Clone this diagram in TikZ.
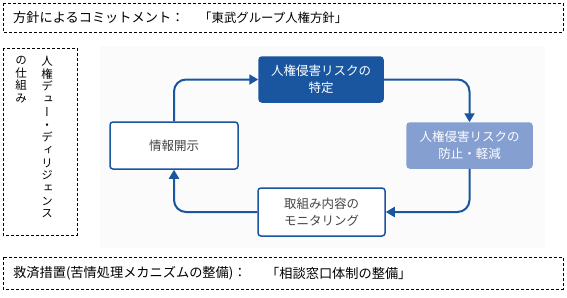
\documentclass[tikz,border=0pt]{standalone}
\usepackage{fontspec}
\newfontfamily\jp{Noto Sans CJK JP}
\newfontfamily\jpv[RawFeature=+vert]{Noto Sans CJK JP}
\usetikzlibrary{arrows.meta}
\definecolor{dkblue}{RGB}{26,85,160}
\definecolor{ltblue}{RGB}{132,159,208}
\definecolor{txtgray}{RGB}{68,68,68}
\definecolor{bgray}{RGB}{251,251,251}
\tikzset{
  dbox/.style={draw=black, line width=0.8pt, dash pattern=on 3pt off 2pt},
  dtext/.style={font=\jp\fontsize{13.2}{15}\selectfont, anchor=west, inner sep=0pt},
  dtextn/.style={dtext, font=\jp\fontsize{12.4}{15}\selectfont},
  vtext/.style={font=\jpv\fontsize{11.5}{12.7}\selectfont, anchor=north, inner sep=0pt, align=center},
  stepbox/.style={rounded corners=3pt, line width=1.5pt, align=center, inner sep=0pt,
    font=\jp\fontsize{12.5}{17}\selectfont},
  darkbox/.style={stepbox, fill=dkblue, draw=dkblue, text=white},
  lightbox/.style={stepbox, fill=ltblue, draw=ltblue, text=white},
  whitebox/.style={stepbox, fill=white, draw=dkblue, text=txtgray},
  arr/.style={draw=dkblue, line width=2pt, rounded corners=12pt, -{Triangle[length=9pt,width=10pt]}}
}
\begin{document}
\begin{tikzpicture}[x=1pt,y=-1pt]
\useasboundingbox (0,0) rectangle (567,297);
% top dashed box
\draw[dbox] (3,3) rectangle (563,32);
\node[dtext] (topa) at (13,17.5) {方針によるコミットメント：};
\node[dtextn] (topb) at (199,17.5) {「東武グループ人権方針」};
% left dashed box
\draw[dbox] (3,48) rectangle (77,235);
\node[vtext] (vcol1) at (47,56) {人\\権\\デ\\ュ\\ー\\・\\デ\\ィ\\リ\\ジ\\ェ\\ン\\ス};
\node[vtext] (vcol2) at (21,56) {の\\仕\\組\\み};
% bottom dashed box
\draw[dbox] (3,257) rectangle (563,289);
\node[dtext] (bota) at (13,273.5) {救済措置(苦情処理メカニズムの整備)：};
\node[dtext] (botb) at (266,273.5) {「相談窓口体制の整備」};
% faint background
\fill[bgray] (100,46) rectangle (545,248);
% cycle boxes
\node[darkbox, minimum width=124pt, minimum height=45pt] (T) at (321,79.5) {人権侵害リスクの\\特定};
\node[lightbox, minimum width=125pt, minimum height=45pt] (R) at (469.5,145.5) {人権侵害リスクの\\防止・軽減};
\node[whitebox, minimum width=127pt, minimum height=48pt] (B) at (321.5,212) {取組み内容の\\モニタリング};
\node[whitebox, minimum width=128pt, minimum height=47pt] (L) at (174,145.5) {情報開示};
% arrows
\draw[arr] (L.north) |- (T.west);
\draw[arr] (T.east) -| (R.north);
\draw[arr] (R.south) |- (B.east);
\draw[arr] (B.west) -| (L.south);
\end{tikzpicture}
\end{document}
